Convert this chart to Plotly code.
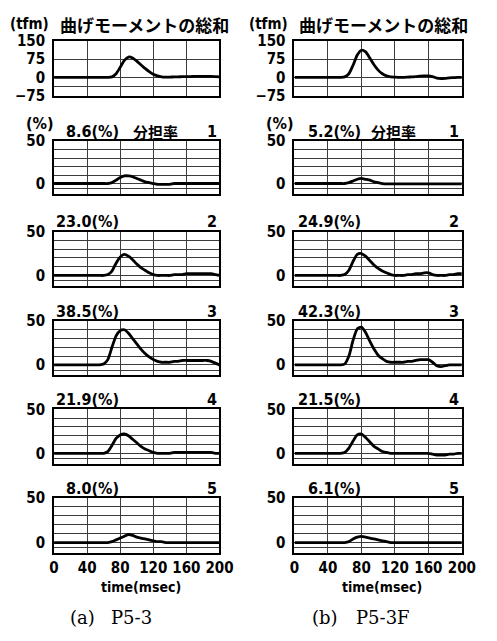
import plotly.graph_objects as go

W, H = 497, 641

# ---------------- data ----------------
time_ms = [0, 5, 10, 15, 20, 25, 30, 35, 40, 45, 50, 55, 60, 65, 70, 75, 80, 85, 90, 95, 100,
           105, 110, 115, 120, 125, 130, 135, 140, 145, 150, 155, 160, 165, 170, 175, 180, 185, 190, 195, 200]

# (a) P5-3 : total bending moment (tfm)
moment_a = [0, 0, 0, 0, 0, 0, 0, 0, 0, 0, 0, 0, 0,
            0, 2, 15, 42, 70, 84, 80, 67, 52, 37, 24, 13, 6, 2, 1, 1, 2, 2, 3, 3, 3, 4, 4, 4, 4, 4, 3, 2]
# (b) P5-3F
moment_b = [0, 0, 0, 0, 0, 0, 0, 0, 0, 0, 0, 0,
            2, 15, 50, 92, 112, 105, 80, 52, 30, 15, 6, 2, 1, 0, 0, 1, 2, 3, 5, 6, 6, 3, -3, -5, -4, -2, -1, 0, 0]

# share ratios (%) of girders 1..5
share_a1 = [0, 0, 0, 0, 0, 0, 0, 0, 0, 0, 0, 0, 0, 0,
            1, 4, 7, 9, 9, 8, 6, 4, 2, 1, 0, -1, -1, -1, -1,
            0, 0, 0, 0, 0, 0, 0, 0, 0, 0, 0, 0]
share_a2 = [0, 0, 0, 0, 0, 0, 0, 0, 0, 0, 0, 0, 0,
            1, 5, 14, 21, 24, 22, 18, 13, 9, 6, 3, 1, 0, 0, 0, 0, 1, 1, 1, 2, 2, 2, 2, 2, 2, 2, 1, 0]
share_a3 = [0, 0, 0, 0, 0, 0, 0, 0, 0, 0, 0, 0,
            1, 6, 20, 33, 39, 40, 36, 30, 24, 18, 13, 9, 6, 4, 3, 3, 3, 4, 4, 5, 5, 5, 5, 5, 5, 5, 4, 2, 0]
share_a4 = [0, 0, 0, 0, 0, 0, 0, 0, 0, 0, 0, 0, 0,
            2, 9, 17, 21, 22, 20, 16, 12, 8, 5, 3, 1, 0, 0, 0, 0, 1, 1, 1, 1, 1, 1, 1, 1, 1, 1, 0, 0]
share_a5 = [0, 0, 0, 0, 0, 0, 0, 0, 0, 0, 0, 0, 0, 0,
            1, 3, 5, 7, 9, 8, 6, 5, 4, 3, 2, 1, 1, 0, 0,
            0, 0, 0, 0, 0, 0, 0, 0, 0, 0, 0, 0]

share_b1 = [0, 0, 0, 0, 0, 0, 0, 0, 0, 0, 0, 0, 0,
            1, 3, 5, 6, 5, 4, 2, 1, 0,
            -0.5, -0.5, -0.5, -0.5, -0.5, -0.5, -0.5, -0.5, -0.5, -0.5,
            -0.5, -0.5, -0.5, -0.5, -0.5, -0.5, -0.5, -0.5, -0.5]
share_b2 = [0, 0, 0, 0, 0, 0, 0, 0, 0, 0, 0, 0,
            1, 6, 16, 24, 25, 22, 17, 12, 8, 5, 3, 1, 0, 0, 0, 1, 1, 2, 2, 3, 3, 1, 0, 0, 0, 1, 1, 2, 2]
share_b3 = [0, 0, 0, 0, 0, 0, 0, 0, 0, 0, 0, 0,
            1, 10, 28, 41, 43, 37, 27, 18, 11, 7, 4, 3, 3, 3, 3, 4, 4, 5, 6, 6, 6, 3, -1, -2, -1, 0, 0, 0, 0]
share_b4 = [0, 0, 0, 0, 0, 0, 0, 0, 0, 0, 0, 0,
            1, 6, 14, 21, 22, 18, 13, 8, 5, 2, 1, 0, 0, 0, 0, 0, 0, 0, 0, 0, 0, -1, -2, -2, -2, -1, -1, 0, 0]
share_b5 = [0, 0, 0, 0, 0, 0, 0, 0, 0, 0, 0, 0, 0,
            1, 4, 6, 7, 6, 5, 4, 3, 2, 1, 0,
            0, 0, 0, 0, 0, 0, 0, 0, 0, 0, 0, 0, 0, 0, 0, 0, 0]

peak_pct_a = ["8.6", "23.0", "38.5", "21.9", "8.0"]
peak_pct_b = ["5.2", "24.9", "42.3", "21.5", "6.1"]
girder_no = ["1", "2", "3", "4", "5"]

x_ticks = [0, 40, 80, 120, 160, 200]
moment_ticks = [-75, -37.5, 0, 75, 150]
moment_labels = ["\u221275", "", "0", "75", "150"]
pct_ticks = [-6, 0, 10, 20, 30, 40, 50]
pct_labels = ["", "0", "", "", "", "", "50"]

panel_labels = [("(a)", "P5-3"), ("(b)", "P5-3F")]

# ---------------- layout geometry (pixels) ----------------
cols = [(51, 223), (301, 475)]
rows = [(33, 89), (136, 190), (229, 285), (321, 377), (412, 468), (503, 560)]

COND = "DejaVu Sans Condensed, Liberation Sans Narrow, DejaVu Sans, sans-serif"
CJK = "Noto Sans CJK JP, Noto Sans CJK SC, sans-serif"
SERIF = "DejaVu Serif, Liberation Serif, serif"

def px(xp):
    return xp / W

def py(yp):
    return 1 - yp / H

series = [
    [moment_a, share_a1, share_a2, share_a3, share_a4, share_a5],
    [moment_b, share_b1, share_b2, share_b3, share_b4, share_b5],
]
peaks = [peak_pct_a, peak_pct_b]

fig = go.Figure()
layout = dict(
    width=W, height=H, autosize=False,
    margin=dict(l=0, r=0, t=0, b=0),
    paper_bgcolor="white", plot_bgcolor="white",
    showlegend=False,
)
annotations = []

def ann(text, x, y, size, xanchor="center", family=COND, bold=True):
    annotations.append(dict(
        text=text, x=px(x), y=py(y), xref="paper", yref="paper",
        xanchor=xanchor, yanchor="middle", showarrow=False,
        font=dict(family=family, size=size, color="black", weight="bold" if bold else "normal"),
    ))

tickfont = dict(family=COND, size=15, color="black", weight="bold")

for c, (x0, x1) in enumerate(cols):
    for r, (y0, y1) in enumerate(rows):
        idx = c * 6 + r + 1
        sfx = "" if idx == 1 else str(idx)
        fig.add_trace(go.Scatter(
            x=time_ms, y=series[c][r], mode="lines",
            xaxis="x" + sfx, yaxis="y" + sfx,
            line=dict(color="black", width=2.8, shape="spline", smoothing=0.6),
            hoverinfo="skip",
        ))
        layout["xaxis" + sfx] = dict(
            domain=[px(x0), px(x1)], range=[0, 200], anchor="y" + sfx,
            tickvals=x_ticks, showgrid=True, gridcolor="#3c3c3c", gridwidth=1,
            showline=True, mirror=True, linecolor="black", linewidth=2,
            zeroline=False, ticks="", showticklabels=(r == 5), tickfont=tickfont,
            fixedrange=True,
        )
        if r == 0:
            yr, tv, tt = [-75, 150], moment_ticks, moment_labels
        else:
            yr, tv, tt = [-12, 50], pct_ticks, pct_labels
        layout["yaxis" + sfx] = dict(
            domain=[py(y1), py(y0)], range=yr, anchor="x" + sfx,
            tickvals=tv, ticktext=tt, showgrid=True, gridcolor="#3c3c3c", gridwidth=1,
            showline=True, mirror=True, linecolor="black", linewidth=2,
            zeroline=False, ticks="", ticklabelstandoff=4, tickfont=tickfont,
            fixedrange=True,
        )
        if r >= 1:
            lab_x = 121 if c == 0 else 372
            ann(peaks[c][r - 1] + "(%)", lab_x, y0 - 10, 16, xanchor="right")
            ann(girder_no[r - 1], x1 - 1, y0 - 10, 16, xanchor="right")

# titles above the moment plots and share plots
for c, (x0, x1) in enumerate(cols):
    off = 0 if c == 0 else 249
    ann("(tfm)", 3 + off, 15, 15, xanchor="left")
    ann("曲げモーメントの総和", 55 + off, 16, 17, xanchor="left", family=CJK)
    ann("(%)", 20 + off, 118, 16, xanchor="left")
    fen_x = 131 if c == 0 else 378
    ann("分担率", fen_x, 126, 15, xanchor="left", family=CJK)
    ann("time(msec)", (x0 + x1) / 2 + 4, 595, 14)
    ann(panel_labels[c][0], x0 + 30 + (2 if c else 0), 626, 18, family=SERIF, bold=False)
    ann(panel_labels[c][1], x0 + 57 + (5 if c else 0), 626, 18, xanchor="left", family=SERIF, bold=False)

layout["annotations"] = annotations
fig.update_layout(**layout)
fig.write_html("out.html", config={"displayModeBar": False},
               post_script="document.body.style.margin='0';")
